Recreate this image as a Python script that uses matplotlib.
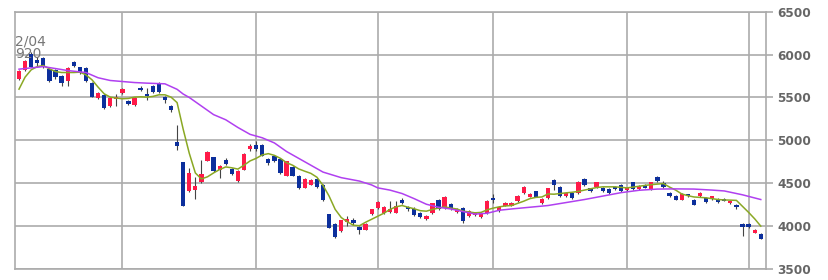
import matplotlib
matplotlib.use("Agg")
import matplotlib.pyplot as plt
import numpy as np

# ---------------- data ----------------
opens = [5717, 5822, 6010, 5935, 5965, 5834, 5822, 5752, 5687, 5918,
         5853, 5842, 5667, 5493, 5531, 5395, 5485, 5551, 5461, 5415,
         5610, 5535, 5635, 5667, 5500, 5395, 4977, 4744, 4407, 4418,
         4511, 4763, 4803, 4659, 4771, 4671, 4524, 4655, 4900, 4950,
         4950, 4783, 4816, 4783, 4590, 4691, 4590, 4446, 4485, 4551,
         4485, 4136, 4029, 3941, 4046, 4077, 3992, 3960, 4136, 4213,
         4155, 4163, 4155, 4310, 4221, 4200, 4150, 4080, 4150, 4305,
         4213, 4255, 4165, 4213, 4116, 4124, 4110, 4156, 4333, 4180,
         4240, 4240, 4291, 4388, 4342, 4404, 4264, 4330, 4535, 4460,
         4350, 4388, 4388, 4555, 4430, 4455, 4446, 4434, 4460, 4485,
         4420, 4512, 4434, 4485, 4434, 4570, 4504, 4388, 4349, 4310,
         4365, 4310, 4349, 4330, 4318, 4318, 4312, 4264, 4252, 4026,
         4026, 3922, 3911]
closes = [5810, 5930, 5860, 5905, 5872, 5694, 5733, 5667, 5842, 5872,
          5783, 5687, 5511, 5551, 5376, 5493, 5500, 5597, 5426, 5493,
          5590, 5525, 5558, 5558, 5465, 5349, 4930, 4240, 4621, 4468,
          4609, 4862, 4640, 4702, 4728, 4609, 4640, 4846, 4931, 4900,
          4822, 4737, 4756, 4620, 4756, 4590, 4446, 4551, 4543, 4458,
          4302, 3981, 3875, 4069, 4084, 4039, 3950, 4029, 4194, 4280,
          4221, 4202, 4240, 4272, 4194, 4130, 4110, 4120, 4265, 4200,
          4345, 4194, 4200, 4058, 4178, 4160, 4155, 4295, 4300, 4225,
          4275, 4275, 4349, 4458, 4377, 4342, 4318, 4440, 4485, 4349,
          4390, 4330, 4520, 4480, 4425, 4510, 4407, 4390, 4430, 4407,
          4446, 4434, 4473, 4446, 4512, 4531, 4460, 4349, 4310, 4377,
          4352, 4252, 4388, 4280, 4349, 4280, 4305, 4291, 4225, 3992,
          3992, 3960, 3853]
highs = [5820, 5940, 6030, 5970, 5975, 5845, 5830, 5760, 5850, 5930,
         5860, 5850, 5675, 5560, 5540, 5500, 5545, 5605, 5470, 5500,
         5635, 5610, 5645, 5675, 5520, 5410, 5182, 4750, 4679, 4574,
         4775, 4870, 4810, 4717, 4790, 4680, 4650, 4855, 4960, 4990,
         4960, 4790, 4825, 4790, 4765, 4700, 4600, 4560, 4550, 4560,
         4495, 4145, 4035, 4075, 4120, 4100, 4000, 4035, 4200, 4290,
         4230, 4290, 4290, 4330, 4240, 4220, 4160, 4130, 4275, 4315,
         4355, 4265, 4210, 4220, 4185, 4170, 4165, 4305, 4380, 4235,
         4285, 4285, 4360, 4470, 4385, 4415, 4325, 4450, 4551, 4470,
         4400, 4395, 4530, 4565, 4450, 4520, 4455, 4445, 4470, 4495,
         4455, 4520, 4480, 4495, 4520, 4580, 4530, 4395, 4360, 4385,
         4380, 4320, 4395, 4340, 4355, 4325, 4330, 4300, 4260, 4040,
         4040, 3965, 3920]
lows = [5700, 5810, 5850, 5870, 5840, 5680, 5720, 5628, 5628, 5860,
        5775, 5680, 5500, 5485, 5370, 5385, 5395, 5545, 5415, 5405,
        5570, 5473, 5550, 5550, 5440, 5335, 4883, 4230, 4400, 4318,
        4500, 4755, 4630, 4562, 4710, 4600, 4515, 4650, 4880, 4880,
        4815, 4715, 4750, 4610, 4580, 4580, 4435, 4440, 4478, 4450,
        4295, 3975, 3860, 3935, 4000, 4010, 3903, 3955, 4125, 4205,
        4145, 4150, 4150, 4255, 4180, 4115, 4100, 4070, 4140, 4190,
        4205, 4185, 4155, 4040, 4110, 4115, 4100, 4145, 4270, 4170,
        4230, 4230, 4285, 4380, 4335, 4335, 4255, 4320, 4426, 4340,
        4340, 4320, 4380, 4470, 4400, 4445, 4400, 4380, 4420, 4400,
        4410, 4425, 4425, 4440, 4425, 4520, 4450, 4340, 4300, 4300,
        4340, 4245, 4340, 4270, 4310, 4270, 4290, 4255, 4200, 3884,
        3975, 3915, 3845]

# short moving average (green), one value per candle
ma_short = [5597, 5737, 5822, 5860, 5872, 5834, 5802, 5791, 5791, 5791,
            5795, 5764, 5706, 5621, 5543, 5504, 5493, 5485, 5489, 5504,
            5508, 5504, 5512, 5531, 5531, 5504, 5440, 5130, 4850, 4620,
            4550, 4575, 4620, 4660, 4690, 4680, 4665, 4710, 4760, 4790,
            4830, 4845, 4825, 4790, 4740, 4710, 4667, 4640, 4615, 4570,
            4475, 4350, 4195, 4100, 4050, 4010, 4005, 4045, 4080, 4115,
            4150, 4194, 4225, 4240, 4220, 4202, 4180, 4174, 4195, 4210,
            4225, 4210, 4200, 4175, 4165, 4155, 4160, 4190, 4210, 4225,
            4235, 4240, 4265, 4290, 4320, 4335, 4340, 4375, 4372, 4380,
            4388, 4395, 4405, 4420, 4435, 4450, 4458, 4458, 4458, 4452,
            4446, 4455, 4465, 4475, 4483, 4490, 4496, 4455, 4420, 4375,
            4355, 4340, 4335, 4330, 4320, 4310, 4305, 4303, 4300, 4230,
            4160, 4085, 4000]

# long moving average (purple), sampled at candle indices
ma_long_idx = [0, 4, 8, 11, 13, 15, 19, 21, 24, 26, 27, 28, 30, 32, 34, 36,
               38, 40, 42, 44, 46, 48, 50, 53, 56, 58, 59, 61, 63, 65, 67,
               69, 71, 73, 75, 77, 79, 81, 84, 87, 90, 93, 96, 99, 102, 105,
               108, 111, 114, 116, 119, 122]
ma_long = [5830, 5860, 5814, 5791, 5730, 5698, 5674, 5667, 5659, 5595, 5540,
           5500, 5400, 5300, 5240, 5150, 5070, 5030, 4970, 4870, 4790, 4710,
           4630, 4565, 4525, 4480, 4446, 4420, 4380, 4320, 4255, 4220, 4200,
           4170, 4140, 4150, 4185, 4200, 4220, 4240, 4275, 4310, 4350, 4390,
           4418, 4432, 4434, 4432, 4420, 4410, 4365, 4310]

month_starts = [17, 39, 59, 78, 100, 120]
yticks = [3500, 4000, 4500, 5000, 5500, 6000, 6500]
peak_date = "2/04"
peak_value = "920"

# ---------------- drawing ----------------
W, H = 829, 280
fig = plt.figure(figsize=(W / 100, H / 100), dpi=100)
left_px, right_px, top_px, bot_px = 14.7, 766, 11.7, 269
ax = fig.add_axes([left_px / W, (H - bot_px) / H,
                   (right_px - left_px) / W, (bot_px - top_px) / H])

n = len(opens)
x = np.arange(n)
o = np.array(opens, float)
c = np.array(closes, float)
hi = np.array(highs, float)
lo = np.array(lows, float)

grid_col = '#ababab'
red = '#ff1a48'
blue = '#0c2f9c'

ax.set_xlim(-0.71, 122.86)
ax.set_ylim(3500, 6500)

# grid
for m in month_starts:
    ax.axvline(m, color=grid_col, lw=1.2, zorder=1)
ax.set_yticks(yticks)
ax.yaxis.grid(True, color=grid_col, lw=1.2, zorder=1)
ax.set_axisbelow(True)
ax.set_xticks([])

for s in ax.spines.values():
    s.set_color(grid_col)
    s.set_linewidth(1.2)

ax.yaxis.tick_right()
ax.tick_params(axis='y', length=5, width=1.2, color=grid_col,
               labelcolor='#666666', labelsize=8.7, pad=3)
for lab in ax.get_yticklabels():
    lab.set_fontweight('bold')

# candles
ax.vlines(x, lo, hi, color='#444444', lw=0.8, zorder=3)
up = c >= o
body_low = np.minimum(o, c)
body_h = np.abs(c - o)
min_h = 25
adj = np.where(body_h < min_h, (min_h - body_h) / 2, 0)
ax.bar(x, np.maximum(body_h, min_h), bottom=body_low - adj, width=0.7,
       color=np.where(up, red, blue), linewidth=0, zorder=4)

# moving averages
ax.plot(x, ma_short, color='#8aa824', lw=1.1, zorder=5)
ax.plot(ma_long_idx, ma_long, color='#b040f0', lw=1.1, zorder=5)

# peak annotation (clipped at the left edge)
ax.text(-0.71, 6230, peak_date, ha='left', va='top', fontsize=10,
        color='#777777', zorder=6, clip_on=True)
ax.text(-0.71, 6085, peak_value, ha='left', va='top', fontsize=10,
        color='#777777', zorder=6, clip_on=True)

fig.savefig('out.png', dpi=100, facecolor='white')
